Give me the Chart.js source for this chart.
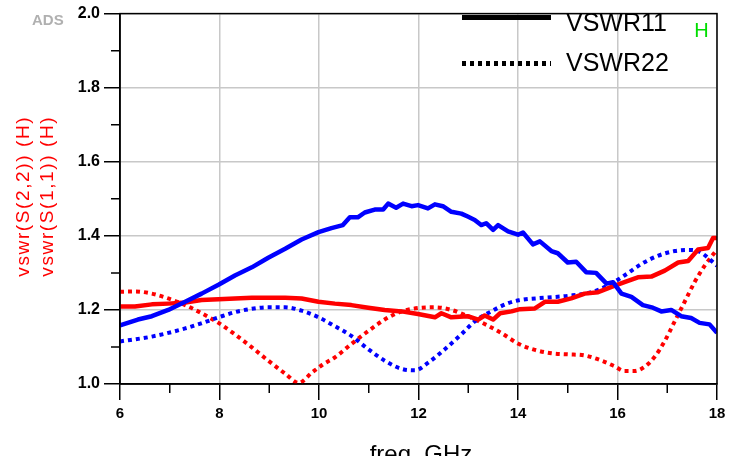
<!DOCTYPE html>
<html><head><meta charset="utf-8">
<script src="https://cdn.jsdelivr.net/npm/chart.js@4.4.0/dist/chart.umd.min.js"></script>
<style>html,body{margin:0;padding:0;background:#fff;overflow:hidden}</style>
</head><body>
<canvas id="c" width="742" height="466"></canvas>
<script>
// ---- data ----
const xTitle = "freq, GHz";
const yTitles = ["vswr(S(2,2)) (H)", "vswr(S(1,1)) (H)"];
const legendNames = ["VSWR11", "VSWR22"];

const freqBlueSolid = [6.0,6.36,6.64,6.97,7.31,7.64,7.98,8.31,8.65,8.98,9.32,9.65,9.99,10.25,10.48,10.62,10.78,10.92,11.12,11.29,11.39,11.55,11.69,11.86,11.99,12.19,12.33,12.49,12.66,12.86,12.99,13.13,13.26,13.36,13.5,13.6,13.8,14.0,14.1,14.3,14.44,14.67,14.8,15.0,15.17,15.37,15.57,15.78,15.91,16.08,16.28,16.51,16.71,16.88,17.08,17.28,17.48,17.65,17.85,18.0];
const vswrBlueSolid = [1.158,1.174,1.183,1.200,1.222,1.244,1.268,1.293,1.315,1.341,1.365,1.390,1.410,1.421,1.429,1.450,1.450,1.463,1.471,1.471,1.487,1.476,1.487,1.480,1.483,1.474,1.485,1.480,1.465,1.460,1.452,1.443,1.429,1.434,1.416,1.429,1.412,1.403,1.409,1.377,1.385,1.359,1.353,1.328,1.330,1.302,1.300,1.271,1.275,1.244,1.235,1.213,1.206,1.196,1.200,1.183,1.178,1.165,1.161,1.138];

const freqRedSolid = [6.0,6.3,6.64,6.97,7.31,7.64,7.98,8.31,8.65,8.98,9.32,9.65,9.99,10.32,10.65,10.99,11.32,11.66,11.99,12.33,12.46,12.66,12.99,13.2,13.33,13.5,13.64,13.87,14.04,14.34,14.54,14.8,15.07,15.34,15.61,15.88,16.14,16.41,16.68,16.95,17.22,17.42,17.62,17.82,17.92,18.0];
const vswrRedSolid = [1.209,1.209,1.215,1.217,1.220,1.227,1.229,1.231,1.233,1.233,1.233,1.231,1.222,1.217,1.213,1.206,1.200,1.196,1.189,1.180,1.191,1.180,1.183,1.174,1.185,1.174,1.191,1.196,1.202,1.204,1.222,1.222,1.231,1.244,1.248,1.262,1.275,1.288,1.290,1.306,1.328,1.332,1.363,1.367,1.394,1.394];

const freqBlueDot = [6.0,6.64,7.31,7.64,7.98,8.31,8.65,8.98,9.32,9.65,9.99,10.32,10.65,10.99,11.32,11.66,11.93,12.19,12.53,12.86,13.13,13.46,13.8,14.02,14.54,15.0,15.48,15.81,16.14,16.48,16.81,17.15,17.42,17.65,17.85,18.0];
const vswrBlueDot = [1.115,1.128,1.150,1.164,1.180,1.194,1.203,1.207,1.207,1.198,1.180,1.156,1.130,1.094,1.063,1.041,1.037,1.057,1.094,1.134,1.169,1.196,1.218,1.226,1.233,1.238,1.248,1.266,1.293,1.324,1.346,1.359,1.362,1.357,1.337,1.319];

const freqRedDot = [6.0,6.3,6.64,6.97,7.31,7.64,7.98,8.31,8.65,8.98,9.32,9.59,9.86,10.07,10.32,10.65,10.99,11.32,11.66,11.99,12.33,12.66,12.99,13.33,13.66,14.02,14.34,14.67,15.0,15.34,15.68,15.94,16.14,16.34,16.54,16.74,16.95,17.15,17.35,17.55,17.75,18.0];
const vswrRedDot = [1.249,1.250,1.244,1.231,1.213,1.191,1.165,1.134,1.099,1.063,1.028,1.003,1.031,1.052,1.072,1.108,1.143,1.174,1.196,1.205,1.207,1.200,1.183,1.162,1.138,1.108,1.092,1.083,1.080,1.077,1.063,1.048,1.035,1.035,1.046,1.072,1.116,1.169,1.222,1.275,1.319,1.363];

const xMin = 6, xMax = 18, xStep = 2, xMinorTicks = [7,9,11,13,15,17];
const yMin = 1.0, yMax = 2.0, yStep = 0.2, yMinorTicks = [1.1,1.3,1.5,1.7,1.9];

// ---- build ----
const pts = (fs, vs) => fs.map((f, i) => ({x: f, y: vs[i]}));
const BLUE = '#0000ff', RED = '#ff0000';
const FONT = "'Liberation Sans', Arial, sans-serif";

const decor = {
  id: 'decor',
  afterDraw(chart) {
    const ctx = chart.ctx, a = chart.chartArea;
    const xs = chart.scales.x, ys = chart.scales.y;
    ctx.save();
    // frame
    ctx.strokeStyle = '#000'; ctx.lineWidth = 1.5;
    ctx.strokeRect(a.left, a.top, a.right - a.left, a.bottom - a.top);
    // minor ticks
    ctx.beginPath();
    xMinorTicks.forEach(v => { const p = xs.getPixelForValue(v); ctx.moveTo(p, a.bottom); ctx.lineTo(p, a.bottom + 9); });
    yMinorTicks.forEach(v => { const p = ys.getPixelForValue(v); ctx.moveTo(a.left, p); ctx.lineTo(a.left - 9, p); });
    ctx.stroke();
    // legend
    ctx.strokeStyle = '#000'; ctx.lineWidth = 5; ctx.lineCap = 'butt';
    ctx.beginPath(); ctx.moveTo(462, 17.5); ctx.lineTo(551, 17.5); ctx.stroke();
    ctx.setLineDash([4, 4]);
    ctx.beginPath(); ctx.moveTo(462, 63.5); ctx.lineTo(551, 63.5); ctx.stroke();
    ctx.setLineDash([]);
    ctx.fillStyle = '#000'; ctx.font = '25px ' + FONT; ctx.textAlign = 'left'; ctx.textBaseline = 'alphabetic';
    ctx.fillText(legendNames[0], 566, 31);
    ctx.fillText(legendNames[1], 566, 71);
    // green H
    ctx.fillStyle = '#00dd00'; ctx.font = '20px ' + FONT; ctx.textAlign = 'center';
    ctx.fillText('H', 701.5, 37);
    // ADS
    ctx.fillStyle = '#b0b0b0'; ctx.font = 'bold 15px ' + FONT; ctx.textAlign = 'left';
    ctx.fillText('ADS', 32, 25);
    // y titles
    ctx.fillStyle = RED; ctx.font = '19px ' + FONT;
    [[24, yTitles[0]], [47.5, yTitles[1]]].forEach(([cx, t]) => {
      ctx.save();
      ctx.translate(cx, 197); ctx.rotate(-Math.PI / 2);
      ctx.textAlign = 'center'; ctx.textBaseline = 'middle';
      const w0 = ctx.measureText(t).width;
      const ls = (161 - w0) / t.length;
      if ('letterSpacing' in ctx) { ctx.letterSpacing = ls + 'px'; ctx.fillText(t, ls / 2, 0); }
      else ctx.fillText(t, 0, 0);
      ctx.restore();
    });
    // x title (clipped at bottom like the reference)
    ctx.save();
    ctx.beginPath(); ctx.rect(0, 0, chart.width, 456); ctx.clip();
    ctx.fillStyle = '#000'; ctx.font = '24px ' + FONT; ctx.textAlign = 'center'; ctx.textBaseline = 'alphabetic';
    ctx.fillText(xTitle, 421, 462);
    ctx.restore();
    ctx.restore();
  }
};

new Chart(document.getElementById('c'), {
  type: 'line',
  data: {
    datasets: [
      {label: 'VSWR11 (blue)', data: pts(freqBlueSolid, vswrBlueSolid), borderColor: BLUE, borderWidth: 4.5, tension: 0, borderJoinStyle: 'round'},
      {label: 'VSWR11 (red)', data: pts(freqRedSolid, vswrRedSolid), borderColor: RED, borderWidth: 4.5, tension: 0, borderJoinStyle: 'round'},
      {label: 'VSWR22 (blue)', data: pts(freqBlueDot, vswrBlueDot), borderColor: BLUE, borderWidth: 4, borderDash: [4, 4], cubicInterpolationMode: 'monotone'},
      {label: 'VSWR22 (red)', data: pts(freqRedDot, vswrRedDot), borderColor: RED, borderWidth: 4, borderDash: [4, 4], cubicInterpolationMode: 'monotone'}
    ]
  },
  options: {
    responsive: false, animation: false, devicePixelRatio: 1,
    layout: {padding: {top: 6, right: 25, left: 0, bottom: 0}},
    elements: {point: {radius: 0}, line: {fill: false}},
    plugins: {legend: {display: false}, tooltip: {enabled: false}},
    scales: {
      x: {
        type: 'linear', min: xMin, max: xMax,
        afterFit: s => { s.height = 82; },
        ticks: {stepSize: xStep, color: '#000', font: {family: FONT, size: 15, weight: 'bold'}, padding: 5, maxRotation: 0},
        grid: {color: '#c8c8c8', lineWidth: 1.5, tickColor: '#000', tickLength: 16, tickWidth: 1.5},
        border: {color: '#000', width: 1.5}
      },
      y: {
        type: 'linear', min: yMin, max: yMax,
        afterFit: s => { s.width = 120; },
        ticks: {stepSize: yStep, color: '#000', font: {family: FONT, size: 16, weight: 'bold'}, padding: 4, callback: v => Number(v).toFixed(1)},
        grid: {color: '#c8c8c8', lineWidth: 1.5, tickColor: '#000', tickLength: 16, tickWidth: 1.5},
        border: {color: '#000', width: 1.5}
      }
    }
  },
  plugins: [decor]
});
</script>
</body></html>
